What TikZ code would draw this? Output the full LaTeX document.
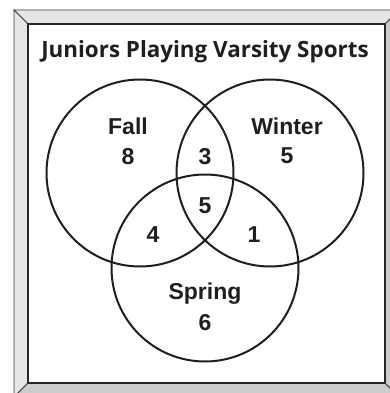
\documentclass[tikz,border=0pt]{standalone}
\usepackage{fontspec}
\setmainfont{Liberation Sans}
\newfontfamily\headfont{Open Sans}
\usetikzlibrary{positioning}

\begin{document}
\begin{tikzpicture}[
    x=1pt, y=-1pt,
    ring/.style={draw=black!88, line width=2pt},
    setname/.style={font=\fontsize{23}{23}\selectfont\bfseries, text=black!88, inner sep=0pt, anchor=base},
    count/.style={font=\fontsize{23}{23}\selectfont\bfseries, text=black!88, inner sep=0pt}
]
    \useasboundingbox (0,0) rectangle (390,393);
    \clip (0,0) rectangle (390,393);

    % frame
    \coordinate (il) at (28,24);
    \coordinate (ir) at (385,383);
    \filldraw[fill=black!10, draw=black!75, line width=0.8pt] (14,10) -- (399,10) -- (385,24) -- (28,24) -- cycle;
    \filldraw[fill=black!10, draw=black!75, line width=0.8pt] (14,10) -- (28,24) -- (28,383) -- (14,397) -- cycle;
    \filldraw[fill=black!20, draw=black!75, line width=0.8pt] (14,397) -- (28,383) -- (385,383) -- (399,397) -- cycle;
    \filldraw[fill=black!20, draw=black!75, line width=0.8pt] (399,10) -- (385,24) -- (385,383) -- (399,397) -- cycle;
    \filldraw[fill=white, draw=black!85, line width=1.2pt] (il) rectangle (ir);

    \node[anchor=base, inner sep=0pt, text=black!88, font=\headfont\fontsize{22.4}{22.4}\selectfont\bfseries] (title) at (205,58) {Juniors Playing Varsity Sports};

    % circles
    \draw[ring] (140,173) circle[radius=93.5];
    \draw[ring] (270,173) circle[radius=93.5];
    \draw[ring] (205,268) circle[radius=93.5];

    % names
    \node[setname] (fall) at (128,134) {Fall};
    \node[setname] (winter) at (287,134) {Winter};
    \node[setname] (spring) at (205,299) {Spring};

    % counts
    \node[count, below=13.5pt of fall] (nfall) {8};
    \node[count, below=13.5pt of winter] (nwinter) {5};
    \node[count, below=10.5pt of spring] (nspring) {6};
    \node[count, anchor=base] (nfw) at (205,164) {3};
    \node[count, anchor=base] (nall) at (205,213) {5};
    \node[count, anchor=base] (nfs) at (153,242) {4};
    \node[count, anchor=base] (nws) at (254,242) {1};
\end{tikzpicture}
\end{document}
